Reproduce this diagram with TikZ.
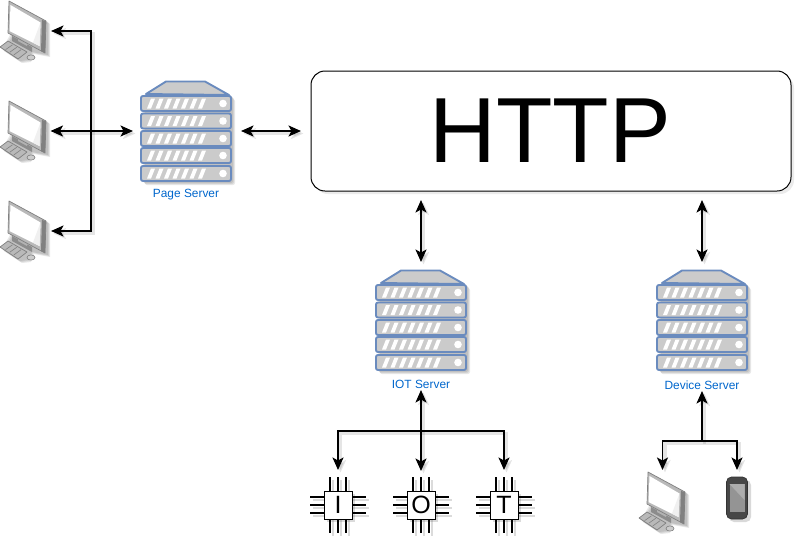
\documentclass[tikz,border=0pt]{standalone}
\usepackage{fontspec}
\setmainfont{Liberation Sans}
\usetikzlibrary{arrows.meta,calc}
\definecolor{rackline}{HTML}{6A8BBE}
\definecolor{rackfill}{HTML}{CBCBCB}
\definecolor{labelblue}{HTML}{0066CC}
\tikzset{
  x=1pt,y=-1pt,
  anchorbox/.style={inner sep=0,outer sep=0,draw=none,fill=none},
  conn/.style={line width=1.8pt,black,
    preaction={draw,line width=3.5pt,black,opacity=.10,transform canvas={shift={(2.5pt,-2.5pt)}}}},
  both/.style={conn,{Stealth[length=12.5pt,width=11pt,inset=3pt]}-{Stealth[length=12.5pt,width=11pt,inset=3pt]}},
  one/.style={conn,-{Stealth[length=12.5pt,width=11pt,inset=3pt]}},
  slabel/.style={inner sep=0,outer sep=0,text=labelblue,font=\fontsize{11.9}{12}\selectfont,minimum height=12pt},
  softsh/.style={fill=black,opacity=.09,draw=none},
  rackunit/.style={draw=rackline,line width=1.9pt,fill=rackfill,rounded corners=2pt},
  pinline/.style={line width=1.5pt,black},
  server/.pic={
    \foreach \s in {2,3,4}{
      \fill[softsh,rounded corners=2pt] (\s,\s+12) -- (25+\s,\s) -- (65+\s,\s) -- (90+\s,\s+14) -- (90+\s,100+\s) -- (\s,100+\s) -- cycle;
    }
    \draw[rackline,line width=1.9pt,fill=rackfill,line join=round] (5,13) -- (25,0.5) -- (64,0.5) -- (88,14) -- cycle;
    \foreach \t in {15,32.5,50,67,85}{
      \draw[rackunit] (0,\t) rectangle (90,\t+15);
      \foreach \n in {0,...,6}{
        \fill[white] ({6+8.5*\n},\t+12.5) -- ({10+8.5*\n},\t+12.5) -- ({14+8.5*\n},\t+2.5) -- ({10+8.5*\n},\t+2.5) -- cycle;
      }
      \fill[white] (82,\t+7.5) circle (3.8);
    }
  },
  computer/.pic={
    \foreach \s in {2,3,4}{
      \fill[softsh] (9+\s,1+\s) -- (46+\s,20+\s) -- (46+\s,53+\s) -- (30+\s,50+\s) -- (27+\s,58+\s) -- (18+\s,59+\s) -- (0+\s,47+\s) -- (8+\s,33+\s) -- cycle;
    }
    \fill[gray!90] (12,36) -- (32,47) -- (32,52) -- (12,41) -- cycle;
    \fill[gray!60] (18,36) -- (27,41) -- (27,46) -- (18,41) -- cycle;
    \draw[gray!100,fill=gray!55,line width=.7pt,line join=round] (9,1) -- (46,21) -- (45,53) -- (8,33) -- cycle;
    \fill[gray!100] (42,20) -- (46,21) -- (45,53) -- (41,51) -- cycle;
    \fill[white] (10.5,5) -- (40.5,22.5) -- (39.5,46) -- (9.5,31) -- cycle;
    \fill[gray!12] (40.5,22.5) -- (39.5,46) -- (33,42.5) -- cycle;
    \draw[gray!100,fill=gray!55,line width=.7pt,line join=round] (0,47) -- (8,41) -- (27,52) -- (18,59) -- cycle;
    \foreach \k in {0.25,0.5,0.75}{
      \draw[gray!100,line width=.6pt] ($(1.5,47)!\k!(18,57.5)$) -- ($(8,42.5)!\k!(25.5,52)$);
    }
    \draw[gray!100,fill=gray!40,line width=.6pt] (31,57.5) ellipse (4 and 2.6);
  },
  chip/.pic={
    \foreach \d in {-8,0,8}{
      \draw[pinline] (-14,\d) -- (-28,\d);
      \draw[pinline] (14,\d) -- (28,\d);
      \draw[pinline] (\d,-14) -- (\d,-28);
      \draw[pinline] (\d,14) -- (\d,28);
    }
  },
  chipshadow/.pic={
    \foreach \d in {-8,0,8}{
      \draw[black,opacity=.14,line width=2.5pt] (-28,\d) -- (28,\d);
      \draw[black,opacity=.14,line width=2.5pt] (\d,-28) -- (\d,28);
    }
    \fill[black,opacity=.14] (-14,-14) rectangle (14,14);
  },
  chipbox/.style={draw=black,fill=white,line width=1pt,minimum width=28pt,minimum height=28pt,inner sep=0,outer sep=0,font=\fontsize{25}{25}\selectfont},
}
\begin{document}
\begin{tikzpicture}
\useasboundingbox (0,0) rectangle (802,546);
% HTTP
\fill[black,opacity=.08,rounded corners=14pt] (314,74) rectangle (794,194);
\node[draw=black,fill=white,line width=1pt,rounded corners=14pt,minimum width=480pt,minimum height=120pt,inner sep=0,outer sep=0,font=\fontsize{92.5}{92.5}\selectfont] (http) at (551,131) {\hspace*{-2pt}HTTP};
% Icons
\foreach \nm/\yy in {pcA/0,pcB/100,pcC/200}{
  \pic at (0,\yy) {computer};
  \node[anchorbox,minimum width=47pt,minimum height=62pt] (\nm) at (23.5,\yy+31) {};
}
\pic at (639,471) {computer};
\node[anchorbox,minimum width=47pt,minimum height=62pt] (pcD) at (662.5,502) {};
\foreach \nm/\xx in {page/141,iot/376,device/657}{
  \pic at (\xx,\ifnum\xx=141 81\else 270\fi) {server};
  \node[anchorbox,minimum width=90pt,minimum height=100pt] (\nm) at (\xx+45,\ifnum\xx=141 131\else 320\fi) {};
}
\node[slabel] (pageL) at (186,195) {Page Server};
\node[slabel] (iotL) at (421,384) {IOT Server};
\node[slabel] (deviceL) at (702,385) {Device Server};
% Chips
\foreach \nm/\xx/\tx in {chipI/338/I,chipO/421/O,chipT/504/T}{
  \pic at (\xx+3,508) {chipshadow};
  \pic at (\xx,505) {chip};
  \node[chipbox] (\nm) at (\xx,505) {\tx};
}
% Phone
\fill[black,opacity=.15,rounded corners=5pt] (729,480) rectangle (751,522);
\node[anchorbox,draw=black!80,fill=black!72,line width=.7pt,rounded corners=5pt,minimum width=21pt,minimum height=42pt] (phone) at (737,498) {};
\fill[black!42] (729.5,484) rectangle (744.5,512);
\fill[black!32] (729.5,484) -- (744.5,484) -- (744.5,500) -- cycle;
% Connectors
\coordinate (busL) at (91,131);
\coordinate (iotBus) at (421,431);
\coordinate (devBus) at (702,441);
\draw[both,shorten <=-.5pt,shorten >=8pt] (pcB.east) ++(4,0) -- (page.west);
\draw[one,shorten >=4pt] (busL) -- (busL |- pcA.east) -- (pcA.east);
\draw[one,shorten >=4pt] (busL) -- (busL |- pcC.east) -- (pcC.east);
\draw[both,shorten <=10pt,shorten >=10pt] (page.east) -- (http.west);
\draw[both,shorten <=9pt,shorten >=8pt] (iot.north |- http.south) -- (iot.north);
\draw[both,shorten <=9pt,shorten >=8pt] (device.north |- http.south) -- (device.north);
\draw[both,shorten >=7pt] (iotL.south) -- (chipO.north |- 0,478);
\draw[one,shorten >=8pt] (iotBus) -| (chipI.north |- 0,478);
\draw[one,shorten >=8pt] (iotBus) -| (chipT.north |- 0,478);
\draw[one] (devBus) -- (deviceL.south);
\draw[one] (devBus) -| ($(pcD.north)+(0,-1)$);
\draw[one] (devBus) -| ($(phone.north)+(0,-7)$);
\end{tikzpicture}
\end{document}
